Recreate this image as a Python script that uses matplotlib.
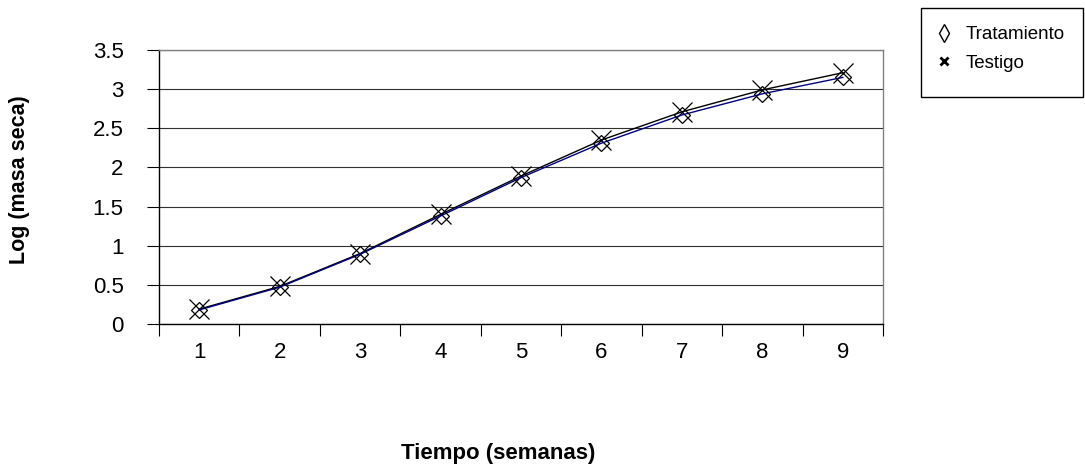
import numpy as np
import matplotlib
matplotlib.use("Agg")
import matplotlib.pyplot as plt
from matplotlib.lines import Line2D
from matplotlib.patches import Rectangle

plt.rcParams['font.family'] = ['Liberation Sans', 'DejaVu Sans']

# datos
semanas = [1, 2, 3, 4, 5, 6, 7, 8, 9]
tratamiento = [0.18, 0.47, 0.89, 1.38, 1.87, 2.31, 2.67, 2.94, 3.15]
testigo = [0.19, 0.48, 0.90, 1.40, 1.89, 2.35, 2.71, 2.99, 3.21]
yticks = [0, 0.5, 1, 1.5, 2, 2.5, 3, 3.5]
ytick_labels = ['0', '0.5', '1', '1.5', '2', '2.5', '3', '3.5']

fig = plt.figure(figsize=(10.85, 4.66), dpi=100)
ax = fig.add_axes([159/1085, 1 - 324/466, (883 - 159)/1085, (324 - 50)/466])

# lineas de la serie
ax.plot(semanas, testigo, color='black', linewidth=1.0, marker='x',
        markersize=14, markeredgewidth=0.9, markeredgecolor='black', zorder=3)
ax.plot(semanas, tratamiento, color='#000080', linewidth=1.0, marker='D',
        markersize=8.5, markeredgewidth=0.9, markeredgecolor='black',
        markerfacecolor='none', zorder=4)

ax.set_xlim(0.5, len(semanas) + 0.5)
ax.set_ylim(0, 3.5)

# eje y
ax.set_yticks(yticks)
ax.set_yticklabels(ytick_labels)
ax.tick_params(axis='y', direction='out', length=8.5, width=0.8, pad=17,
               labelsize=16, color='black')
ax.grid(axis='y', color='#303030', linewidth=0.8)
ax.set_axisbelow(True)

# eje x: marcas entre categorias, etiquetas en el centro
ax.set_xticks(np.arange(0.5, len(semanas) + 1, 1))
ax.set_xticklabels([])
ax.set_xticks(semanas, minor=True)
ax.set_xticklabels([str(s) for s in semanas], minor=True)
ax.tick_params(axis='x', which='major', direction='out', length=8.5, width=0.8)
ax.tick_params(axis='x', which='minor', length=0, pad=13, labelsize=16)

for side in ['top', 'right']:
    ax.spines[side].set_color('#808080')
    ax.spines[side].set_linewidth(1.0)
for side in ['left', 'bottom']:
    ax.spines[side].set_color('black')
    ax.spines[side].set_linewidth(1.0)

ax.set_ylabel('Log (masa seca)', fontsize=15.5, fontweight='bold')
ax.yaxis.set_label_coords(-0.178, 0.526)
ax.set_xlabel('Tiempo (semanas)', fontsize=16, fontweight='bold')
ax.xaxis.set_label_coords(0.468, -0.435)

# leyenda
handles = [
    Line2D([], [], linestyle='none', marker='d', markersize=9,
           markerfacecolor='none', markeredgecolor='black', markeredgewidth=1.0),
    Line2D([], [], linestyle='none', marker='x', markersize=6,
           markeredgecolor='black', markeredgewidth=2.0),
]
fig.legend(handles, ['Tratamiento', 'Testigo'], loc='upper left',
           bbox_to_anchor=(936/1085, 1 - 26/466), frameon=False, fontsize=13.5,
           handlelength=0.8, handletextpad=0.8, labelspacing=0.62,
           borderpad=0, borderaxespad=0)
fig.add_artist(Rectangle((921/1085, 1 - 97/466), 162/1085, 89/466,
                         transform=fig.transFigure, fill=False,
                         edgecolor='black', linewidth=1.0))

fig.savefig('out.png', dpi=100)
